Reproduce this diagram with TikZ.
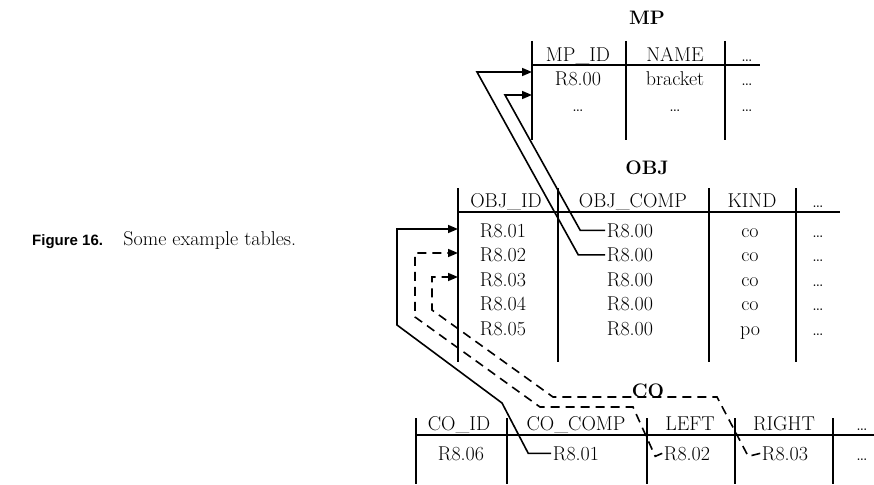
\documentclass[tikz,border=0pt]{standalone}
\usepackage{fontspec}
\usepackage{tikz}
\usetikzlibrary{arrows.meta, calc}
\newfontfamily\capfont{Liberation Sans}

\begin{document}
\begin{tikzpicture}[
    x=1pt, y=-1pt,
    cell/.style={inner xsep=1.5pt, inner ysep=0pt, anchor=base, font=\fontsize{20}{24}\selectfont},
    tabtitle/.style={cell, font=\fontsize{19.5}{24}\selectfont\bfseries},
    rule/.style={line width=1.5pt},
    link/.style={line width=1.6pt, -{Triangle[length=10pt, width=8pt]}},
    dlink/.style={link, dash pattern=on 9pt off 6pt},
]
    \useasboundingbox (0,0) rectangle (874,484);

    % Caption
    \node[anchor=base west, inner sep=0pt, font=\fontsize{15}{18}\selectfont\capfont\bfseries] (figlabel) at (32,245) {Figure 16.};
    \node[anchor=base west, inner sep=0pt, font=\fontsize{20}{24}\selectfont] (figtext) at ([xshift=20pt]figlabel.base east) {Some example tables.};

    % MP table
    \node[tabtitle] (mp) at (647,25) {MP};
    \draw[rule] (532,41) -- (532,140) (626,41) -- (626,140) (725,41) -- (725,140);
    \draw[rule] (532,65) -- (760,65);
    \node[cell] (mpid) at (578,62) {MP\_ID};
    \node[cell] (mpname) at (675,62) {NAME};
    \node[cell] (mpmore) at (747,62) {\dots};
    \node[cell] (mpid1) at (578,86) {R8.00};
    \node[cell] (mpname1) at (675,86) {bracket};
    \node[cell] (mpmore1) at (747,86) {\dots};
    \node[cell] (mpid2) at (578,111) {\dots};
    \node[cell] (mpname2) at (675,111) {\dots};
    \node[cell] (mpmore2) at (747,111) {\dots};
    \coordinate (mpin1) at (532,72);
    \coordinate (mpin2) at (532,95);

    % OBJ table
    \node[tabtitle] (obj) at (647,174) {OBJ};
    \draw[rule] (458,188) -- (458,362) (558,188) -- (558,362) (709,188) -- (709,362) (796,188) -- (796,362);
    \draw[rule] (458,212) -- (840,212);
    \node[cell] (objid) at (506,207) {OBJ\_ID};
    \node[cell] (objcomp) at (633,207) {OBJ\_COMP};
    \node[cell] (objkind) at (752,207) {KIND};
    \node[cell] (objmore) at (818,207) {\dots};
    \foreach \i/\k in {1/co, 2/co, 3/co, 4/co, 5/po} {
        \node[cell] (objid\i) at (503,{237+24.5*(\i-1)}) {R8.0\i};
        \node[cell] (objcomp\i) at (630,{237+24.5*(\i-1)}) {R8.00};
        \node[cell] (objkind\i) at (750,{237+24.5*(\i-1)}) {\k};
        \node[cell] (objmore\i) at (818,{237+24.5*(\i-1)}) {\dots};
    }
    \coordinate (objin1) at (458,229);
    \coordinate (objin2) at (458,253);
    \coordinate (objin3) at (458,277);

    % CO table
    \node[tabtitle] (co) at (648,397) {CO};
    \draw[rule] (416,418) -- (416,484) (507,418) -- (507,484) (647,418) -- (647,484)
                (735,418) -- (735,484) (833,418) -- (833,484);
    \draw[rule] (416,435) -- (874,435);
    \node[cell] (coid) at (459,430) {CO\_ID};
    \node[cell] (cocomp) at (576,430) {CO\_COMP};
    \node[cell] (coleft) at (690,430) {LEFT};
    \node[cell] (coright) at (784,430) {RIGHT};
    \node[cell] (comore) at (862,430) {\dots};
    \node[cell] (coid1) at (461,460) {R8.06};
    \node[cell] (cocomp1) at (576,460) {R8.01};
    \node[cell] (coleft1) at (687,460) {R8.02};
    \node[cell] (coright1) at (785,460) {R8.03};
    \node[cell] (comore1) at (862,460) {\dots};

    % OBJ_COMP -> MP_ID
    \draw[link] (objcomp2.west) -- ++(-27,0) -- (477,72) -- (mpin1);
    \draw[link] (objcomp1.west) -- ++(-25,0) -- (505,95) -- (mpin2);

    % CO -> OBJ_ID
    \draw[link] (cocomp1.west) -- ++(-23,0) -- (502,403) -- (397,325) -- (397,229) -- (objin1);
    \draw[dlink] (coleft1.west) -- ++(-7,3) -- (633,407) -- (540,407) -- (415,317) -- (415,253) -- (objin2);
    \draw[dlink] (coright1.west) -- ++(-12,3) -- (717,397) -- (553,397) -- (432,310) -- (432,277) -- (objin3);
\end{tikzpicture}
\end{document}
